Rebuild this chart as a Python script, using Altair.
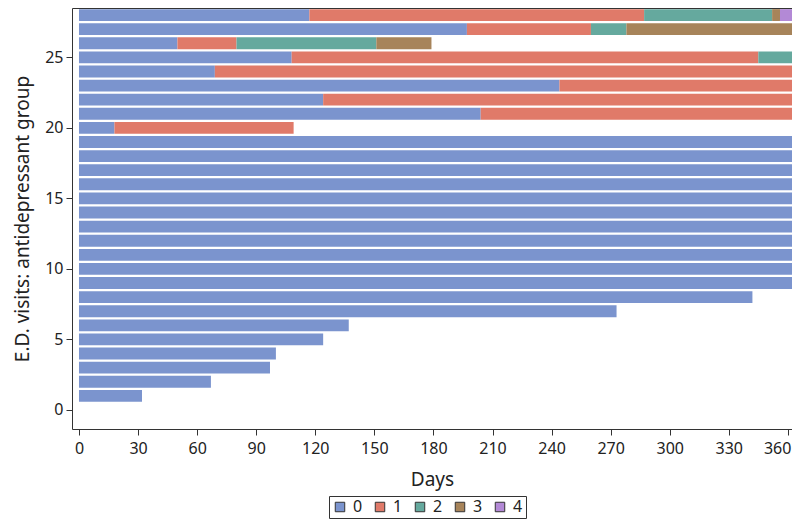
import altair as alt
import pandas as pd

# Swimmer segments: subject row, start day, end day, number of E.D. visits so far
seg_subject = [28, 28, 28, 28, 28,
               27, 27, 27, 27,
               26, 26, 26, 26,
               25, 25, 25,
               24, 24,
               23, 23,
               22, 22,
               21, 21,
               20, 20,
               19, 18, 17, 16, 15, 14, 13, 12, 11, 10, 9,
               8, 7, 6, 5, 4, 3, 2, 1]
seg_start = [0, 117, 287, 352, 356,
             0, 197, 260, 278,
             0, 50, 80, 151,
             0, 108, 345,
             0, 69,
             0, 244,
             0, 124,
             0, 204,
             0, 18,
             0, 0, 0, 0, 0, 0, 0, 0, 0, 0, 0,
             0, 0, 0, 0, 0, 0, 0, 0]
seg_end = [117, 287, 352, 356, 365,
           197, 260, 278, 365,
           50, 80, 151, 179,
           108, 345, 365,
           69, 365,
           244, 365,
           124, 365,
           204, 365,
           18, 109,
           365, 365, 365, 365, 365, 365, 365, 365, 365, 365, 365,
           342, 273, 137, 124, 100, 97, 67, 32]
seg_visits = ["0", "1", "2", "3", "4",
              "0", "1", "2", "3",
              "0", "1", "2", "3",
              "0", "1", "2",
              "0", "1",
              "0", "1",
              "0", "1",
              "0", "1",
              "0", "1",
              "0", "0", "0", "0", "0", "0", "0", "0", "0", "0", "0",
              "0", "0", "0", "0", "0", "0", "0", "0"]

categories = ["0", "1", "2", "3", "4"]
colors = ["#7B94CE", "#E07A69", "#65A99E", "#A7845A", "#B389D6"]
x_ticks = list(range(0, 361, 30))
y_ticks = [0, 5, 10, 15, 20, 25]

df = pd.DataFrame({
    "subject": seg_subject,
    "start": seg_start,
    "end": seg_end,
    "visits": seg_visits,
})

FONT = "Noto Sans"

chart = alt.Chart(df).transform_calculate(
    lo="datum.subject - 0.42",
    hi="datum.subject + 0.42",
).mark_rect(clip=True).encode(
    x=alt.X("start:Q",
            scale=alt.Scale(domain=[-3.55, 362.1], nice=False, zero=False),
            axis=alt.Axis(values=x_ticks, title="Days", grid=False,
                          labelFlush=5, labelFlushOffset=3)),
    x2="end:Q",
    y=alt.Y("lo:Q",
            scale=alt.Scale(domain=[-1.35, 28.5], nice=False, zero=False),
            axis=alt.Axis(values=y_ticks, title="E.D. visits: antidepressant group",
                          grid=False)),
    y2="hi:Q",
    color=alt.Color("visits:N",
                    scale=alt.Scale(domain=categories, range=colors),
                    legend=alt.Legend(orient="none", legendX=257, legendY=488,
                                      direction="horizontal", title=None,
                                      strokeColor="#333", padding=3,
                                      symbolType="square", symbolSize=90,
                                      symbolStrokeColor="#333", symbolStrokeWidth=1,
                                      symbolOpacity=1,
                                      labelFontSize=16, labelFont=FONT,
                                      labelColor="#222", columnPadding=9,
                                      labelOffset=5)),
).properties(
    width=720,
    height=421,
    autosize=alt.AutoSizeParams(type="none"),
    padding={"left": 64, "top": 0, "right": 0, "bottom": 90},
).configure_view(
    stroke="#333", strokeWidth=1
).configure_axis(
    domain=False,
    tickColor="#333",
    tickSize=6,
    labelFont=FONT,
    labelFontSize=16,
    labelColor="#222",
    titleFont=FONT,
    titleFontSize=19,
    titleFontWeight="normal",
    titleColor="#222",
).configure_axisX(
    labelPadding=5,
    titlePadding=14,
).configure_axisY(
    labelPadding=3,
    titlePadding=12,
)

chart.save("out.html", embed_options={"renderer": "svg", "actions": False})
